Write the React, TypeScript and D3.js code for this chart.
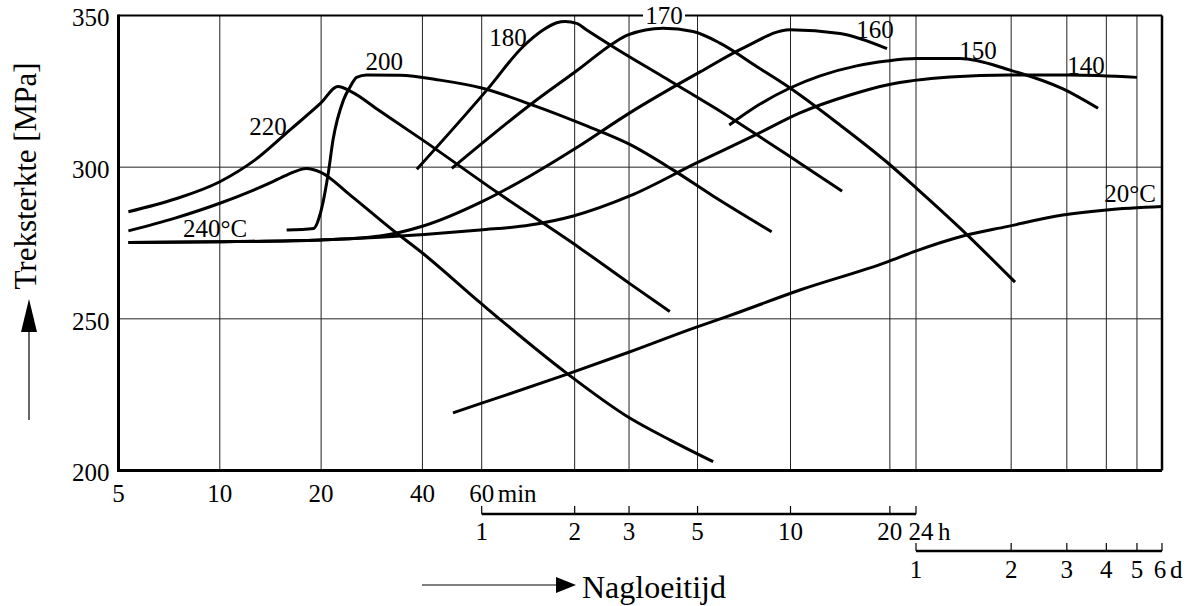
import React from 'react'
import * as d3 from 'd3'

// tijd in minuten, treksterkte in MPa
const curve240 = [[5.35,279],[7.36,283.2],[10,288.1],[14.1,294.8],[15.8,297.4],[18.1,299.6],[19.9,298.4],[24.4,290.8],[32.1,279.9],[40,271.7],[60,254.9],[113,232.1],[181,217.3],[244,210.1],[337,202.9]]
const curve220 = [[5.35,285.3],[7.36,289.5],[10,295.2],[12.73,302.4],[16.17,312.3],[19.9,321],[22.45,326.6],[24.4,325.1],[29.9,318.5],[40,309],[67.1,291.8],[124.9,273.3],[181,261.6],[244,252.4]]
const curve200 = [[15.8,279.3],[19,279.8],[19.9,284.8],[21,298],[21.7,309],[23.3,322.1],[24.4,326.5],[25.5,329.6],[27.3,330.4],[34.3,330.3],[45.1,328.7],[60,326.1],[86,320.8],[131.3,313.6],[181,307.5],[249.8,299.1],[336.7,290.5],[521.5,278.7]]
const curve180 = [[38.5,299.3],[62.3,325.4],[81.6,339.7],[94.8,345.2],[105,347.6],[111.7,348],[121.8,347.4],[131.3,345.2],[159.7,339.7],[231.9,329.8],[336.7,319.9],[641,301.3],[859.6,292.1]]
const curve170 = [[48.9,299.6],[86,320.5],[124.9,332.6],[159.7,340.8],[178.6,343.6],[231.9,345.8],[290,344.7],[354.6,340.9],[467.5,333.1],[598,326.1],[847.5,313.9],[1174,301.7],[1443,293.1],[1985,279.9],[2962,262.1]]
const curve160 = [[5.35,275.2],[10,275.4],[19.9,276],[29.9,277.3],[40.2,280.6],[60.6,288.8],[86,297.1],[121.2,306.3],[181,317.9],[305.6,331.4],[427.4,339.6],[598,345.3],[847.5,344.1],[1176,339.1]]
const curve150 = [[380,313.9],[478,320.8],[598,326.1],[737.4,330.1],[952,333.4],[1174,335],[1443,335.8],[1985,335.8],[2856,332],[4202,325.8],[5424,319.4]]
const curve140 = [[5.35,275.2],[10,275.4],[19.9,276],[29.9,276.9],[59.3,279.3],[86,280.9],[118.8,283.9],[181,290.5],[298,301.4],[467.5,310.9],[641,317.9],[908.8,323.8],[1176,327.1],[1845,329.7],[2856,330.4],[4423,330.4],[7203,329.6]]
const curve20 = [[49.3,219],[60,222.2],[113,231.7],[178.6,238.9],[296,247.2],[377,250.9],[641,259.5],[1174,268.7],[1443,272.4],[2028,277.3],[2788,280.4],[4195,284.2],[5775,285.9],[8640,287]]

const curves = [curve240, curve220, curve200, curve180, curve170, curve160, curve150, curve140, curve20]

// label: tekst, tijd (min), MPa
const curveLabels: [string, number, number][] = [
  ['220', 13.9, 313.6], ['240°C', 9.68, 279.8], ['200', 30.8, 335], ['180', 73, 342.9],
  ['170', 233.6, 350], ['160', 1082, 345.5], ['150', 2262, 338.6], ['140', 4969, 333.7], ['20°C', 6846, 291.5]
]

const yTicks = [200, 250, 300, 350]
const minuteTicks = [5, 10, 20, 40, 60]
const hourTicks = [1, 2, 3, 5, 10, 20, 24]
const dayTicks = [1, 2, 3, 4, 5, 6]

const font = '"Liberation Serif", "Times New Roman", serif'

export default function App() {
  const x = d3.scaleLog().domain([5, 60, 600, 1440, 8640]).range([118.5, 481.7, 790.5, 916, 1162])
  const y = d3.scaleLinear().domain([200, 350]).range([470.5, 15.5])
  const line = d3.line<number[]>().x(d => x(d[0])).y(d => y(d[1])).curve(d3.curveMonotoneX)

  const x0 = x(5), x1 = x(8640), yTop = y(350), yBot = y(200)
  const gridX = [
    ...minuteTicks.slice(1),
    ...hourTicks.slice(1).map(h => h * 60),
    ...dayTicks.slice(1, -1).map(d => d * 1440)
  ]
  const hourY = 514, dayY = 551
  const x170 = x(233.6)

  return (
    <svg width={1194} height={606} style={{position: 'absolute', left: 0, top: 0, background: '#fff'}}
      fontFamily={font}>
      {/* rasterlijnen */}
      {gridX.map(t => (
        <line key={'gx' + t} x1={x(t)} x2={x(t)} y1={yTop} y2={yBot} stroke="#222" strokeWidth={1} />
      ))}
      {yTicks.slice(1, -1).map(v => (
        <line key={'gy' + v} x1={x0} x2={x1} y1={y(v)} y2={y(v)} stroke="#222" strokeWidth={1} />
      ))}

      {/* kader */}
      <line x1={x0} x2={x1} y1={yTop} y2={yTop} stroke="#000" strokeWidth={2} />
      <line x1={x1} x2={x1} y1={yTop} y2={yBot} stroke="#000" strokeWidth={2.5} />
      <line x1={x0} x2={x0} y1={yTop - 1} y2={yBot + 1.5} stroke="#000" strokeWidth={3} />
      <line x1={x0} x2={x1} y1={yBot} y2={yBot} stroke="#000" strokeWidth={3} />
      <rect x={x170 - 21} y={yTop - 6} width={42} height={11} fill="#fff" />

      {/* krommen */}
      {curves.map((c, i) => (
        <path key={'c' + i} d={line(c) || ''} fill="none" stroke="#000" strokeWidth={3} strokeLinecap="butt" />
      ))}

      {curveLabels.map(([txt, t, v]) => (
        <text key={'l' + txt} x={x(t)} y={y(v)} dy="0.35em" textAnchor="middle" fontSize={25}>{txt}</text>
      ))}

      {/* y-as */}
      {yTicks.map(v => (
        <text key={'yt' + v} x={x0 - 9} y={y(v) + 2} dy="0.35em" textAnchor="end" fontSize={25}>{v}</text>
      ))}

      {/* minuten */}
      {minuteTicks.map(t => (
        <text key={'mt' + t} x={x(t)} y={502} textAnchor="middle" fontSize={25}>{t}</text>
      ))}
      <text x={x(60) + 16} y={502} fontSize={25}>min</text>

      {/* uren */}
      <line x1={x(60)} x2={x(1440)} y1={hourY} y2={hourY} stroke="#000" strokeWidth={2.5} />
      {hourTicks.map(h => (
        <g key={'ht' + h}>
          <line x1={x(h * 60)} x2={x(h * 60)} y1={hourY - 8} y2={hourY} stroke="#000" strokeWidth={1.2} />
          <text x={x(h * 60)} dx={h === 24 ? 5 : 0} y={540} textAnchor="middle" fontSize={25}>{h}</text>
        </g>
      ))}
      <text x={x(1440) + 22} y={540} fontSize={25}>h</text>

      {/* dagen */}
      <line x1={x(1440)} x2={x(8640)} y1={dayY} y2={dayY} stroke="#000" strokeWidth={2.5} />
      {dayTicks.map(d => (
        <g key={'dt' + d}>
          <line x1={x(d * 1440)} x2={x(d * 1440)} y1={dayY - 8} y2={dayY} stroke="#000" strokeWidth={1.2} />
          <text x={x(d * 1440)} dx={d === 6 ? -2 : 0} y={578} textAnchor="middle" fontSize={25}>{d}</text>
        </g>
      ))}
      <text x={x(8640) + 8} y={578} fontSize={25}>d</text>

      {/* aslabels */}
      <line x1={422} x2={560} y1={585} y2={585} stroke="#000" strokeWidth={1.2} />
      <path d="M556,577 L576,585 L556,593 Z" fill="#000" />
      <text x={582} y={598} fontSize={32}>Nagloeitijd</text>

      <line x1={29} x2={29} y1={420} y2={328} stroke="#000" strokeWidth={1.2} />
      <path d="M21,332 L29,299 L37,332 Z" fill="#000" />
      <text transform="translate(36,176) rotate(-90)" textAnchor="middle" fontSize={31}>Treksterkte [MPa]</text>
    </svg>
  )
}
